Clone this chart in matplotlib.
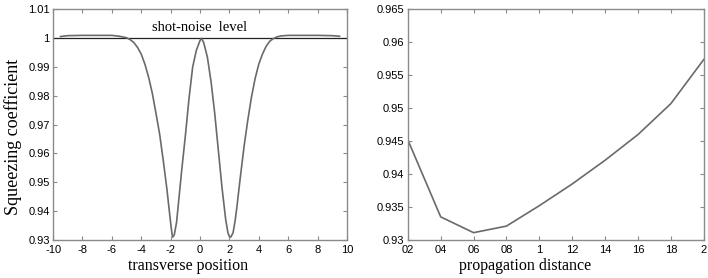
import matplotlib
matplotlib.use("Agg")
from matplotlib import pyplot as plt

plt.rcParams['axes.unicode_minus'] = False

# left panel: squeezing coefficient vs transverse position
pos = [-9.5, -9.0, -8.0, -7.0, -6.0, -5.5, -5.0, -4.75, -4.5, -4.25, -4.0,
       -3.75, -3.5, -3.25, -3.0, -2.75, -2.5, -2.25, -2.1, -2.0, -1.9, -1.85,
       -1.75, -1.6, -1.5, -1.25, -1.0, -0.75, -0.5, -0.25, 0.0, 0.1, 0.25,
       0.5, 0.75, 1.0, 1.25, 1.5, 1.75, 1.9, 2.0, 2.1, 2.25, 2.4, 2.5, 2.75,
       3.0, 3.25, 3.5, 3.75, 4.0, 4.25, 4.5, 4.75, 5.0, 5.25, 5.5, 6.0, 7.0,
       8.0, 9.0, 9.5]
squeeze = [1.0006, 1.0009, 1.001, 1.001, 1.001, 1.0007, 1.0002, 0.9995, 0.9985,
           0.9968, 0.9945, 0.991, 0.9865, 0.981, 0.974, 0.9668, 0.9575, 0.9475,
           0.9405, 0.936, 0.9318, 0.931, 0.9318, 0.936, 0.941, 0.954, 0.966,
           0.979, 0.990, 0.9958, 0.9992, 1.0, 0.9985, 0.9935, 0.985, 0.974,
           0.961, 0.948, 0.937, 0.9325, 0.9312, 0.931, 0.9325, 0.937, 0.941,
           0.952, 0.9625, 0.9715, 0.9795, 0.986, 0.991, 0.9945, 0.9972, 0.999,
           0.9999, 1.0005, 1.0008, 1.001, 1.001, 1.001, 1.0009, 1.0007]
shot_x = [-10, 10]
shot_y = [1.0, 1.0]

# right panel: minimum squeezing vs propagation distance
dist = [0.2, 0.4, 0.6, 0.8, 1.0, 1.2, 1.4, 1.6, 1.8, 2.0]
min_squeeze = [0.9452, 0.9335, 0.9311, 0.9321, 0.9352, 0.9385, 0.9421,
               0.9460, 0.9507, 0.9574]
dist_labels = ['02', '04', '06', '08', '1', '12', '14', '16', '18', '2']

serif = 'Liberation Serif'
sans = 'Liberation Sans'
curve_color = '#6a6a6a'

fig = plt.figure(figsize=(7.08, 2.78), dpi=100)
ax1 = fig.add_axes([0.075, 0.137, 0.415, 0.829])
ax2 = fig.add_axes([0.576, 0.137, 0.418, 0.829])

ax1.plot(shot_x, shot_y, color='#222222', lw=0.9)
ax1.plot(pos, squeeze, color=curve_color, lw=1.2)
ax1.text(0, 1.0038, 'shot-noise  level', family=serif, fontsize=10.5,
         ha='center', va='center')
ax1.set_xlim(-10, 10)
ax1.set_ylim(0.93, 1.01)
ax1.set_xticks(range(-10, 11, 2))
ax1.set_yticks([0.93, 0.94, 0.95, 0.96, 0.97, 0.98, 0.99, 1.0, 1.01])
ax1.set_yticklabels(['0.93', '0.94', '0.95', '0.96', '0.97', '0.98', '0.99', '1', '1.01'])

ax2.plot(dist, min_squeeze, color=curve_color, lw=1.2)
ax2.set_xlim(0.2, 2.0)
ax2.set_ylim(0.93, 0.965)
ax2.set_xticks(dist)
ax2.set_xticklabels(dist_labels)
ax2.set_yticks([0.93, 0.935, 0.94, 0.945, 0.95, 0.955, 0.96, 0.965])
ax2.set_yticklabels(['0.93', '0.935', '0.94', '0.945', '0.95', '0.955', '0.96', '0.965'])

# axis labels (placed as in the original, slightly left of centre)
fig.text(188 / 708, 1 - 266 / 278, 'transverse position', family=serif,
         fontsize=11.5, ha='center', va='center')
fig.text(525 / 708, 1 - 266 / 278, 'propagation distance', family=serif,
         fontsize=11.5, ha='center', va='center')
fig.text(13 / 708, 1 - 137 / 278, 'Squeezing coefficient', family=serif,
         fontsize=13, ha='center', va='center', rotation=90)

for ax in (ax1, ax2):
    for s in ax.spines.values():
        s.set_color('#8a8a8a')
        s.set_linewidth(1.0)
    ax.tick_params(direction='in', top=True, right=True, length=3,
                   color='#8a8a8a', labelsize=8)
    ax.tick_params(axis='x', pad=3.5)
    ax.tick_params(axis='y', pad=2.5)
    for lab in ax.get_xticklabels() + ax.get_yticklabels():
        lab.set_family(sans)

plt.savefig('out.png', dpi=100)
